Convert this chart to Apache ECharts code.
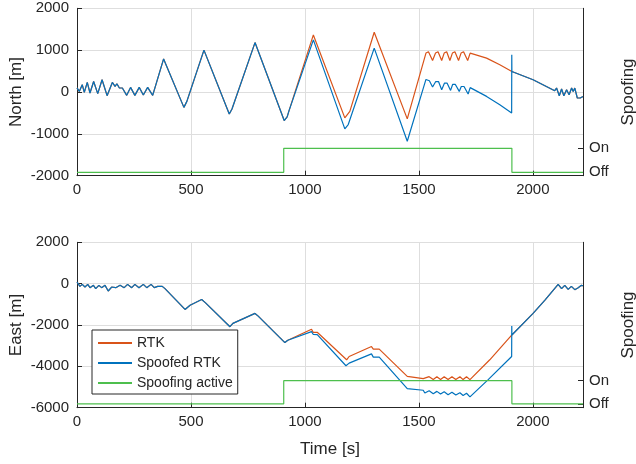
<!DOCTYPE html>
<html>
<head>
<meta charset="utf-8">
<title>RTK spoofing</title>
<script src="https://cdn.jsdelivr.net/npm/echarts@6/dist/echarts.min.js"></script>
<style>
  html, body { margin: 0; padding: 0; background: #fff; }
  #chart { width: 636px; height: 464px; }
</style>
</head>
<body>
<div id="chart"></div>
<script>
// time [s], value [m] pairs
// before spoofing both receivers agree
const northBefore = [[0, 100], [10, 14], [23, 174], [32, -10], [45, 229], [57, -24], [73, 252], [91, -40],
  [110, 293], [132, -88], [155, 229], [167, 133], [175, 198], [186, 95], [199, 95], [218, -80], [235, 110],
  [254, -80], [273, 110], [291, -72], [310, 110], [332, -80], [380, 790], [469, -367], [482, -224],
  [557, 1000], [668, -524], [680, -405], [781, 1181], [909, -683], [922, -595], [930, -450]];
const northRtkSpoof = [[930, -450], [1037, 1364], [1175, -619], [1197, -462], [1304, 1428], [1449, -643],
  [1531, 930], [1536, 960], [1542, 962], [1547, 930], [1560, 752], [1573, 930], [1578, 962], [1584, 962],
  [1589, 930], [1600, 752], [1611, 930], [1616, 962], [1622, 962], [1627, 930], [1636, 752], [1647, 930],
  [1652, 962], [1658, 962], [1663, 930], [1674, 752], [1685, 930], [1690, 962], [1696, 962], [1701, 930],
  [1714, 752], [1725, 930], [1731, 955], [1797, 810], [1855, 650], [1908, 490]];
const northFakeSpoof = [[930, -460], [1037, 1245], [1175, -881], [1190, -778], [1304, 1048], [1449, -1176],
  [1531, 300], [1539, 300], [1546, 270], [1560, 119], [1574, 250], [1580, 269], [1586, 250], [1600, 55],
  [1612, 210], [1618, 229], [1624, 210], [1639, 38], [1648, 180], [1654, 198], [1660, 180], [1677, 14],
  [1686, 132], [1692, 150], [1698, 132], [1716, -48], [1725, 105], [1731, 119], [1797, -105], [1855, -302],
  [1907, -500], [1907.5, 888], [1908, 490]];
const northAfter = [[1908, 490], [2001, 293], [2096, 31], [2104, 95], [2116, -88], [2126, 71], [2136, -88],
  [2148, 55], [2159, -64], [2170, 95], [2177, 14], [2184, 95], [2195, -143], [2208, -143], [2220, -105]];

const eastBefore = [[0, 77], [13, -130], [23, -34], [35, -163], [47, -34], [57, -194], [72, -82], [82, -242],
  [96, -82], [108, -194], [123, -82], [137, -355], [152, -163], [170, -194], [189, -82], [207, -194],
  [222, -34], [240, -194], [254, -34], [272, -194], [291, -34], [306, -194], [325, -34], [339, -194],
  [354, -130], [374, -130], [386, -242], [474, -1248], [496, -1042], [547, -768], [564, -930],
  [671, -2083], [684, -1920], [781, -1440], [795, -1570], [912, -2851], [925, -2740]];
const eastRtkSpoof = [[925, -2740], [1029, -2208], [1036, -2352], [1054, -2352], [1183, -3683], [1194, -3523],
  [1292, -3043], [1300, -3170], [1326, -3170], [1449, -4483], [1519, -4595], [1526, -4640], [1545, -4500],
  [1563, -4640], [1579, -4500], [1595, -4640], [1611, -4500], [1628, -4640], [1645, -4500], [1662, -4640],
  [1680, -4500], [1694, -4640], [1709, -4500], [1724, -4642], [1811, -3683], [1908, -2482]];
const eastFakeSpoof = [[925, -2760], [1029, -2323], [1036, -2450], [1054, -2470], [1180, -3970], [1194, -3843],
  [1292, -3395], [1300, -3555], [1326, -3555], [1449, -5075], [1519, -5155], [1526, -5290], [1545, -5180],
  [1563, -5320], [1579, -5210], [1595, -5340], [1611, -5230], [1628, -5370], [1645, -5250], [1662, -5390],
  [1680, -5280], [1694, -5410], [1709, -5300], [1724, -5475], [1804, -4642], [1907, -3523], [1907.5, -2050],
  [1908, -2482]];
const eastAfter = [[1908, -2482], [2001, -1440], [2053, -800], [2111, -32], [2126, -240], [2140, -80],
  [2155, -274], [2169, -130], [2184, -290], [2199, -194], [2213, -80], [2220, -100]];

// spoofing on/off (step)
const spoofTime = [0, 907, 1908, 2220];
const spoofState = [0, 1, 0, 0];

const xTicks = [0, 500, 1000, 1500, 2000];

const dark = '#262626';
const font = 'Liberation Sans, Arial, Helvetica, sans-serif';
const rtkColor = '#d95319';
const fakeColor = '#0072bd';
const spoofColor = '#4dbf4d';

const rtkNorth = northBefore.concat(northRtkSpoof.slice(1), northAfter.slice(1));
const fakeNorth = northBefore.concat(northFakeSpoof.slice(1), northAfter.slice(1));
const rtkEast = eastBefore.concat(eastRtkSpoof.slice(1), eastAfter.slice(1));
const fakeEast = eastBefore.concat(eastFakeSpoof.slice(1), eastAfter.slice(1));
const spoofData = spoofTime.map((t, i) => [t, spoofState[i]]);

function xAxis(idx, name) {
  return {
    gridIndex: idx,
    type: 'value',
    min: 0,
    max: 2220,
    interval: 500,
    name: name,
    nameLocation: 'middle',
    nameGap: 33,
    nameTextStyle: { fontSize: 17, color: dark, fontFamily: font },
    axisLine: { onZero: false, lineStyle: { color: dark } },
    axisTick: { inside: true, length: 5, lineStyle: { color: dark } },
    axisLabel: {
      fontSize: 15, color: dark, fontFamily: font, margin: 7,
      formatter: v => (xTicks.indexOf(v) >= 0 ? String(v) : '')
    },
    splitLine: { show: true, lineStyle: { color: '#dedede' } }
  };
}

function leftAxis(idx, name, min, max, step) {
  return {
    gridIndex: idx,
    type: 'value',
    position: 'left',
    min: min,
    max: max,
    interval: step,
    name: name,
    nameLocation: 'middle',
    nameRotate: 90,
    nameGap: 52,
    nameMoveOverlap: false,
    nameTextStyle: { fontSize: 17, color: dark, fontFamily: font },
    axisLine: { show: true, onZero: false, lineStyle: { color: dark } },
    axisTick: { show: true, inside: true, length: 5, lineStyle: { color: dark } },
    axisLabel: { fontSize: 15, color: dark, fontFamily: font, margin: 8, formatter: v => String(v) },
    splitLine: { show: true, lineStyle: { color: '#dedede' } }
  };
}

function rightAxis(idx, min, max) {
  return {
    gridIndex: idx,
    type: 'value',
    position: 'right',
    min: min,
    max: max,
    name: 'Spoofing',
    nameLocation: 'middle',
    nameRotate: 90,
    nameGap: 37,
    nameTextStyle: { fontSize: 17, color: dark, fontFamily: font },
    axisLine: { show: true, onZero: false, lineStyle: { color: dark } },
    axisTick: { show: true, inside: true, length: 5, customValues: [0, 1], lineStyle: { color: dark } },
    axisLabel: {
      fontSize: 15, color: dark, fontFamily: font, margin: 6, customValues: [0, 1],
      formatter: v => (v === 1 ? 'On' : v === 0 ? 'Off' : '')
    },
    splitLine: { show: false }
  };
}

function line(name, data, color, xi, yi) {
  return {
    name: name,
    type: 'line',
    xAxisIndex: xi,
    yAxisIndex: yi,
    data: data,
    symbol: 'none',
    animation: false,
    lineStyle: { color: color, width: 1.2 },
    itemStyle: { color: color }
  };
}

const mychart = echarts.init(document.getElementById('chart'));

let option = {
  animation: false,
  backgroundColor: '#fff',
  textStyle: { fontFamily: font },
  grid: [
    { left: 77, right: 53, top: 8.3, height: 167.4, outerBoundsMode: 'none', containLabel: false },
    { left: 77, right: 53, top: 242.3, height: 165.4, outerBoundsMode: 'none', containLabel: false }
  ],
  legend: {
    data: ['RTK', 'Spoofed RTK', 'Spoofing active'],
    orient: 'vertical',
    align: 'left',
    left: 92,
    top: 330,
    itemWidth: 34,
    itemHeight: 14,
    itemGap: 6,
    padding: [6, 5, 4, 5],
    borderColor: dark,
    borderWidth: 1,
    borderRadius: 0,
    backgroundColor: '#fff',
    // hide the marker circle, keep the line
    itemStyle: { color: 'transparent', borderWidth: 0, opacity: 0 },
    textStyle: { fontSize: 14, color: dark, fontFamily: font },
    z: 10
  },
  xAxis: [xAxis(0, ''), xAxis(1, 'Time [s]')],
  yAxis: [
    leftAxis(0, 'North [m]', -2000, 2000, 1000),
    rightAxis(0, -0.14, 6.83),
    leftAxis(1, 'East [m]', -6000, 2000, 2000),
    rightAxis(1, -0.17, 7.0)
  ],
  series: [
    line('RTK', rtkNorth, rtkColor, 0, 0),
    line('Spoofed RTK', fakeNorth, fakeColor, 0, 0),
    Object.assign(line('Spoofing active', spoofData, spoofColor, 0, 1), { step: 'end' }),
    line('RTK', rtkEast, rtkColor, 1, 2),
    line('Spoofed RTK', fakeEast, fakeColor, 1, 2),
    Object.assign(line('Spoofing active', spoofData, spoofColor, 1, 3), { step: 'end' })
  ]
};

mychart.setOption(option);
</script>
</body>
</html>
